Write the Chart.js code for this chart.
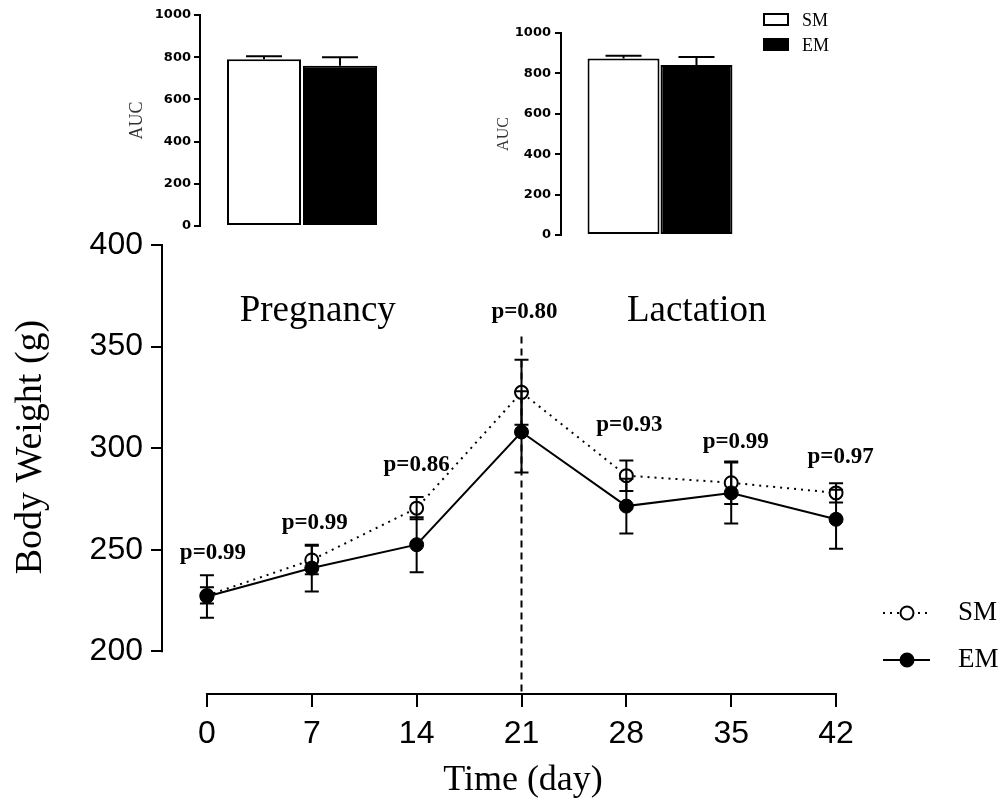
<!DOCTYPE html>
<html>
<head>
<meta charset="utf-8">
<script src="https://cdn.jsdelivr.net/npm/chart.js@4.4.0/dist/chart.umd.min.js"></script>
<style>
  body { margin: 0; background: #fff; }
  #wrap { position: relative; width: 1005px; height: 808px; overflow: hidden; }
  canvas { position: absolute; }
  .key { position: absolute; font: 18px "Liberation Serif", "Times New Roman", serif; color: #000; line-height: 20px; }
  .swatch { position: absolute; width: 26px; height: 13px; border: 2px solid #000; box-sizing: border-box; }
</style>
</head>
<body>
<div id="wrap">
  <canvas id="main" width="1005" height="808" style="left:0;top:0"></canvas>
  <canvas id="aucPreg" width="320" height="240" style="left:100px;top:0"></canvas>
  <canvas id="aucLact" width="320" height="250" style="left:460px;top:0"></canvas>
  <div class="swatch" style="left:763px;top:13px;background:#fff"></div>
  <div class="key" style="left:802px;top:10px">SM</div>
  <div class="swatch" style="left:763px;top:38px;background:#000"></div>
  <div class="key" style="left:802px;top:35px">EM</div>
</div>
<script>
// body weight over time (mean and SEM)
const days = [0, 7, 14, 21, 28, 35, 42];
const smMean = [227.5, 245, 270.5, 327.5, 286.5, 283, 278];
const smSem = [4, 7, 5.5, 16, 7.5, 10.5, 4.7];
const emMean = [227, 241, 252.5, 308, 271.5, 278, 265];
const emSem = [10.5, 11.5, 13.5, 20, 13.5, 15, 14.5];
const yTicks = [200, 250, 300, 350, 400];

// p values above each time point
const pLabels = ['p=0.99', 'p=0.99', 'p=0.86', 'p=0.80', 'p=0.93', 'p=0.99', 'p=0.97'];

// area under the curve for each phase
const groups = ['SM', 'EM'];
const aucPreg = [790, 760];
const aucPregSem = [15, 40];
const aucLact = [874, 841];
const aucLactSem = [13, 40];

Chart.defaults.color = '#000';
Chart.defaults.animation = false;

const serif = '"Liberation Serif", "Times New Roman", serif';
const sans = '"Liberation Sans", Arial, sans-serif';

// annotation places, in data units
const pLabelX = [0.4, 7.2, 14.0, 21.2, 28.2, 35.3, 42.3];
const pLabelY = [248.4, 263.1, 291.6, 366.9, 311.3, 303.0, 295.6];
const phases = [
  { text: 'Pregnancy', x: 7.4, y: 367.4 },
  { text: 'Lactation', x: 32.7, y: 367.4 }
];
const splitDay = 21;
const splitTop = 355;

function drawErrorBars(ctx, xs, ys, means, sems, capHalf) {
  ctx.save();
  ctx.strokeStyle = '#000';
  ctx.lineWidth = 2;
  means.forEach((m, i) => {
    const x = xs.getPixelForValue(days[i]);
    const hi = ys.getPixelForValue(m + sems[i]);
    const lo = ys.getPixelForValue(m - sems[i]);
    ctx.beginPath();
    ctx.moveTo(x, hi); ctx.lineTo(x, lo);
    ctx.moveTo(x - capHalf, hi); ctx.lineTo(x + capHalf, hi);
    ctx.moveTo(x - capHalf, lo); ctx.lineTo(x + capHalf, lo);
    ctx.stroke();
  });
  ctx.restore();
}

const mainPlugin = {
  id: 'mainExtras',
  beforeDatasetsDraw(chart) {
    const { ctx, scales: { x, y } } = chart;
    const px = x.getPixelForValue(splitDay);
    ctx.save();
    ctx.strokeStyle = '#000';
    ctx.lineWidth = 2;
    ctx.setLineDash([7, 5]);
    ctx.beginPath();
    ctx.moveTo(px, y.getPixelForValue(splitTop));
    ctx.lineTo(px, y.bottom);
    ctx.stroke();
    ctx.restore();
  },
  afterDatasetsDraw(chart) {
    const { ctx, scales: { x, y } } = chart;
    drawErrorBars(ctx, x, y, smMean, smSem, 7);
    drawErrorBars(ctx, x, y, emMean, emSem, 7);
  },
  afterDraw(chart) {
    const { ctx, chartArea, scales: { x, y } } = chart;
    ctx.save();
    // axis lines (prism style, detached)
    ctx.strokeStyle = '#000';
    ctx.lineWidth = 2;
    ctx.beginPath();
    ctx.moveTo(chartArea.left, y.getPixelForValue(yTicks[0]) + 1);
    ctx.lineTo(chartArea.left, y.getPixelForValue(yTicks[yTicks.length - 1]) - 1);
    ctx.moveTo(x.getPixelForValue(days[0]) - 1, chartArea.bottom);
    ctx.lineTo(x.getPixelForValue(days[days.length - 1]) + 1, chartArea.bottom);
    ctx.stroke();

    // p values
    ctx.fillStyle = '#000';
    ctx.textAlign = 'center';
    ctx.textBaseline = 'middle';
    ctx.font = 'bold 23px ' + serif;
    pLabels.forEach((t, i) => {
      ctx.fillText(t, x.getPixelForValue(pLabelX[i]), y.getPixelForValue(pLabelY[i]));
    });
    ctx.font = '37px ' + serif;
    phases.forEach(p => ctx.fillText(p.text, x.getPixelForValue(p.x), y.getPixelForValue(p.y)));

    // legend
    const items = [
      { label: 'SM', y: 613, dash: [2, 5], fill: '#fff' },
      { label: 'EM', y: 660, dash: [], fill: '#000' }
    ];
    items.forEach(it => {
      ctx.setLineDash(it.dash);
      ctx.lineWidth = 2;
      ctx.beginPath();
      ctx.moveTo(883, it.y); ctx.lineTo(930, it.y);
      ctx.stroke();
      ctx.setLineDash([]);
      ctx.beginPath();
      ctx.arc(907, it.y, 6.5, 0, Math.PI * 2);
      ctx.fillStyle = it.fill;
      ctx.fill();
      ctx.stroke();
      ctx.fillStyle = '#000';
      ctx.textAlign = 'left';
      ctx.font = '27px ' + serif;
      ctx.fillText(it.label, 958, it.y);
    });
    ctx.restore();
  }
};

new Chart(document.getElementById('main'), {
  type: 'line',
  data: {
    datasets: [
      {
        label: 'EM',
        data: days.map((d, i) => ({ x: d, y: emMean[i] })),
        borderColor: '#000',
        borderWidth: 2,
        pointRadius: 7,
        pointBackgroundColor: '#000',
        pointBorderColor: '#000',
        pointBorderWidth: 1,
        order: 0
      },
      {
        label: 'SM',
        data: days.map((d, i) => ({ x: d, y: smMean[i] })),
        borderColor: '#000',
        borderWidth: 2,
        borderDash: [2, 5],
        pointRadius: 6.5,
        pointBackgroundColor: '#fff',
        pointBorderColor: '#000',
        pointBorderWidth: 2,
        order: 1
      }
    ]
  },
  options: {
    responsive: false,
    layout: { padding: { left: 0, top: 200, right: 121, bottom: 0 } },
    plugins: { legend: { display: false }, tooltip: { enabled: false } },
    scales: {
      x: {
        type: 'linear',
        min: -3,
        max: 45.2,
        afterBuildTicks: s => { s.ticks = days.map(v => ({ value: v })); },
        afterFit: s => { s.height = 114; },
        grid: { drawOnChartArea: false, tickLength: 13, color: '#000', lineWidth: 2 },
        border: { display: false },
        ticks: { autoSkip: false, maxRotation: 0, padding: 8, color: '#000', font: { family: sans, size: 32 } },
        title: { display: true, text: 'Time (day)', color: '#000', font: { family: serif, size: 36 }, padding: { top: 0, bottom: 6 } }
      },
      y: {
        min: 179,
        max: 422.2,
        afterBuildTicks: s => { s.ticks = yTicks.map(v => ({ value: v })); },
        afterFit: s => { s.width = 162; },
        grid: { drawOnChartArea: false, tickLength: 11, color: '#000', lineWidth: 2 },
        border: { display: false },
        ticks: { padding: 8, color: '#000', font: { family: sans, size: 32 } },
        title: { display: true, text: 'Body Weight (g)', color: '#000', font: { family: serif, size: 38 }, padding: { top: 8, bottom: 0 } }
      }
    }
  },
  plugins: [mainPlugin]
});

function barErrorPlugin(sems) {
  return {
    id: 'barErrors',
    afterDatasetsDraw(chart) {
      const { ctx, scales: { y } } = chart;
      ctx.save();
      ctx.strokeStyle = '#000';
      ctx.lineWidth = 2;
      chart.data.datasets.forEach((ds, di) => {
        const bar = chart.getDatasetMeta(di).data[0];
        const top = y.getPixelForValue(ds.data[0] + sems[di]);
        ctx.beginPath();
        ctx.moveTo(bar.x, bar.y);
        ctx.lineTo(bar.x, top);
        ctx.moveTo(bar.x - 18, top);
        ctx.lineTo(bar.x + 18, top);
        ctx.stroke();
      });
      ctx.restore();
    }
  };
}

function aucChart(id, values, sems, opts) {
  return new Chart(document.getElementById(id), {
    type: 'bar',
    data: {
      labels: [''],
      datasets: groups.map((g, i) => ({
        label: g,
        data: [values[i]],
        backgroundColor: i === 0 ? '#fff' : '#000',
        borderColor: '#000',
        borderWidth: 2,
        borderSkipped: false,
        categoryPercentage: opts.catPct,
        barPercentage: opts.barPct
      }))
    },
    options: {
      responsive: false,
      layout: { padding: opts.padding },
      plugins: { legend: { display: false }, tooltip: { enabled: false } },
      scales: {
        x: { display: false },
        y: {
          min: 0,
          max: 1000,
          afterFit: s => { s.width = opts.axisWidth; },
          grid: { drawOnChartArea: false, tickLength: 6, color: '#000', lineWidth: 2 },
          border: { color: '#000', width: 2 },
          ticks: {
            stepSize: 200,
            padding: opts.tickPad,
            color: '#000',
            callback: v => String(v),
            font: { family: '"DejaVu Sans", sans-serif', size: 13, weight: 'bold' }
          },
          title: { display: true, text: 'AUC', color: '#333', font: { family: serif, size: opts.titleSize }, padding: { top: opts.titlePad, bottom: 0 } }
        }
      }
    },
    plugins: [barErrorPlugin(sems)]
  });
}

aucChart('aucPreg', aucPreg, aucPregSem, {
  padding: { left: 0, top: 15, right: 16, bottom: 14 },
  axisWidth: 100, catPct: 0.745, barPct: 0.974, tickPad: 3, titleSize: 18, titlePad: 26
});
aucChart('aucLact', aucLact, aucLactSem, {
  padding: { left: 0, top: 33, right: 21, bottom: 15 },
  axisWidth: 101, catPct: 0.737, barPct: 0.986, tickPad: 4, titleSize: 16, titlePad: 34
});
</script>
</body>
</html>
